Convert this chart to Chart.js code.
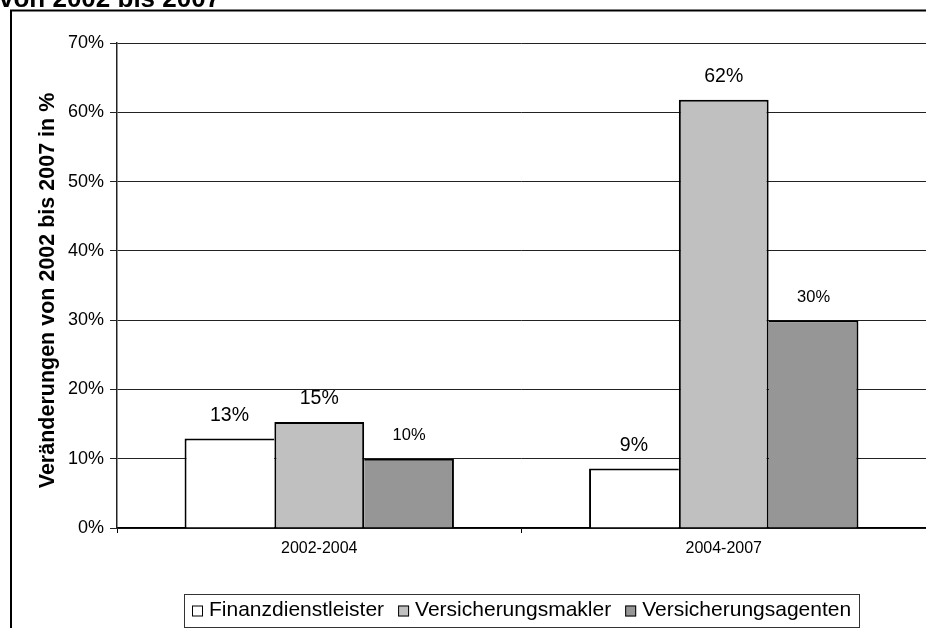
<!DOCTYPE html>
<html>
<head>
<meta charset="utf-8">
<script src="https://cdn.jsdelivr.net/npm/chart.js@4/dist/chart.umd.min.js"></script>
<style>
  html, body { margin: 0; padding: 0; background: #fff; }
  #wrap { position: relative; width: 926px; height: 628px; overflow: hidden; }
</style>
</head>
<body>
<div id="wrap"><canvas id="c" width="926" height="628"></canvas></div>
<script>
const FONT = "'Liberation Sans', Arial, sans-serif";

// Periods and the change (in %) of each intermediary group
const categories = ['2002-2004', '2004-2007'];
const finanzdienstleister = [12.9, 8.6];
const versicherungsmakler = [15.3, 61.8];
const versicherungsagenten = [10.0, 30.0];

const seriesNames = ['Finanzdienstleister', 'Versicherungsmakler', 'Versicherungsagenten'];
const seriesColors = ['#FFFFFF', '#C0C0C0', '#969696'];
const labelSizes = [19.5, 19.5, 16.5];

const titleText = 'von 2002 bis 2007';
const yTitleText = 'Veränderungen von 2002 bis 2007 in %';

// Frame, partially cut title and rotated axis title
const framePlugin = {
  id: 'frame',
  beforeDraw(chart) {
    const ctx = chart.ctx;
    ctx.save();
    ctx.fillStyle = '#fff';
    ctx.fillRect(0, 0, chart.width, chart.height);
    ctx.strokeStyle = '#000';
    ctx.lineWidth = 2;
    ctx.strokeRect(11, 10.5, 2000, 2000);
    ctx.fillStyle = '#000';
    ctx.font = 'bold 26px ' + FONT;
    ctx.textBaseline = 'alphabetic';
    ctx.textAlign = 'left';
    ctx.fillText(titleText, -1, 7);
    ctx.translate(53.5, 290.5);
    ctx.rotate(-Math.PI / 2);
    ctx.textAlign = 'center';
    ctx.font = 'bold 21.5px ' + FONT;
    ctx.fillText(yTitleText, 0, 0);
    ctx.restore();
  }
};

// Value labels above the bars
const valueLabels = {
  id: 'valueLabels',
  afterDatasetsDraw(chart) {
    const ctx = chart.ctx;
    ctx.save();
    ctx.fillStyle = '#000';
    ctx.textAlign = 'center';
    ctx.textBaseline = 'middle';
    chart.data.datasets.forEach((ds, i) => {
      const meta = chart.getDatasetMeta(i);
      ctx.font = labelSizes[i] + 'px ' + FONT;
      meta.data.forEach((bar, j) => {
        ctx.fillText(Math.round(ds.data[j]) + '%', bar.x, bar.y - 23);
      });
    });
    ctx.restore();
  }
};

// Boxed legend centred under the plot area
const boxedLegend = {
  id: 'boxedLegend',
  afterDraw(chart) {
    const ctx = chart.ctx;
    const area = chart.chartArea;
    const box = 11, gap = 6, itemGap = 14, pad = 8;
    ctx.save();
    ctx.font = '21px ' + FONT;
    const items = chart.data.datasets.map(ds => ({
      label: ds.label, color: ds.backgroundColor, w: ctx.measureText(ds.label).width
    }));
    let total = 0;
    items.forEach((it, i) => { total += box + gap + it.w + (i < items.length - 1 ? itemGap : 0); });
    const cx = (area.left + area.right) / 2;
    let x = Math.round(cx - total / 2);
    const yMid = 610;
    ctx.strokeStyle = '#333';
    ctx.lineWidth = 1;
    ctx.strokeRect(x - pad + 0.5, 594.5, Math.round(total + 2 * pad), 33);
    ctx.textBaseline = 'middle';
    ctx.textAlign = 'left';
    items.forEach(it => {
      ctx.fillStyle = it.color;
      ctx.fillRect(x, yMid - box / 2 + 1, box, box);
      ctx.strokeStyle = '#000';
      ctx.strokeRect(x + 0.5, yMid - box / 2 + 1.5, box - 1, box - 1);
      x += box + gap;
      ctx.fillStyle = '#000';
      ctx.fillText(it.label, x, yMid);
      x += it.w + itemGap;
    });
    ctx.restore();
  }
};

// Adjacent bars share a single 2px outline
const borderWidths = [
  { top: 2, left: 2, right: 0, bottom: 0 },
  { top: 2, left: 2, right: 2, bottom: 0 },
  { top: 2, left: 0, right: 2, bottom: 0 }
];
const seriesData = [finanzdienstleister, versicherungsmakler, versicherungsagenten];

new Chart(document.getElementById('c'), {
  type: 'bar',
  data: {
    labels: categories,
    datasets: seriesData.map((d, i) => ({
      label: seriesNames[i],
      data: d,
      backgroundColor: seriesColors[i],
      borderColor: '#000',
      borderWidth: borderWidths[i],
      borderSkipped: 'start',
      barPercentage: 1,
      categoryPercentage: 0.666
    }))
  },
  options: {
    responsive: false,
    animation: false,
    devicePixelRatio: 1,
    layout: { autoPadding: false, padding: { top: 43, left: 0, right: 0, bottom: 0 } },
    plugins: { legend: { display: false }, title: { display: false }, tooltip: { enabled: false } },
    scales: {
      x: {
        afterFit(s) { s.height = 100; },
        grid: { drawOnChartArea: false, drawTicks: true, tickLength: 5, color: '#000', lineWidth: 1 },
        border: { display: true, color: '#000', width: 1.5 },
        ticks: { color: '#000', font: { family: FONT, size: 16 }, padding: 6 }
      },
      y: {
        min: 0, max: 70,
        afterFit(s) { s.width = 117; },
        grid: { color: '#222', lineWidth: 1, tickLength: 7 },
        border: { display: true, color: '#222', width: 1.5 },
        ticks: {
          stepSize: 10, color: '#000', padding: 6,
          font: { family: FONT, size: 18 },
          callback: v => v + '%'
        }
      }
    }
  },
  plugins: [framePlugin, valueLabels, boxedLegend]
});
</script>
</body>
</html>
